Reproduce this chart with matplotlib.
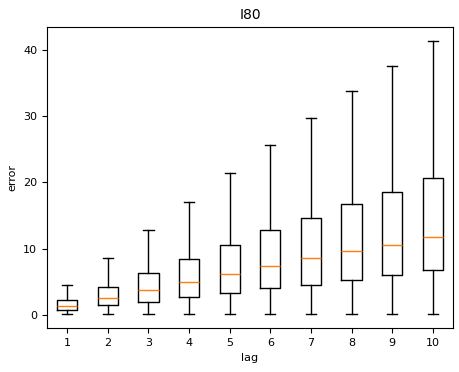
import matplotlib
matplotlib.use("Agg")
import matplotlib.pyplot as plt

lags = [1, 2, 3, 4, 5, 6, 7, 8, 9, 10]
whislo = [0.05, 0.05, 0.05, 0.05, 0.05, 0.05, 0.05, 0.05, 0.05, 0.1]
q1 = [0.65, 1.40, 1.96, 2.71, 3.32, 3.97, 4.57, 5.23, 6.03, 6.74]
med = [1.31, 2.50, 3.72, 4.93, 6.14, 7.39, 8.55, 9.60, 10.6, 11.8]
q3 = [2.26, 4.17, 6.28, 8.45, 10.6, 12.77, 14.65, 16.7, 18.6, 20.6]
whishi = [4.48, 8.6, 12.8, 17.1, 21.46, 25.7, 29.8, 33.8, 37.56, 41.4]

stats = [
    {"whislo": lo, "q1": a, "med": m, "q3": b, "whishi": hi, "label": str(l)}
    for l, lo, a, m, b, hi in zip(lags, whislo, q1, med, q3, whishi)
]

fig = plt.figure(figsize=(4.6, 3.72), dpi=100)
ax = fig.add_axes([0.102, 0.118, 0.883, 0.809])
ax.bxp(stats, showfliers=False)
ax.set_title("I80", fontsize=10)
ax.set_xlabel("lag", fontsize=8)
ax.set_ylabel("error", fontsize=8)
ax.tick_params(labelsize=8)
fig.savefig("out.png", dpi=100)
